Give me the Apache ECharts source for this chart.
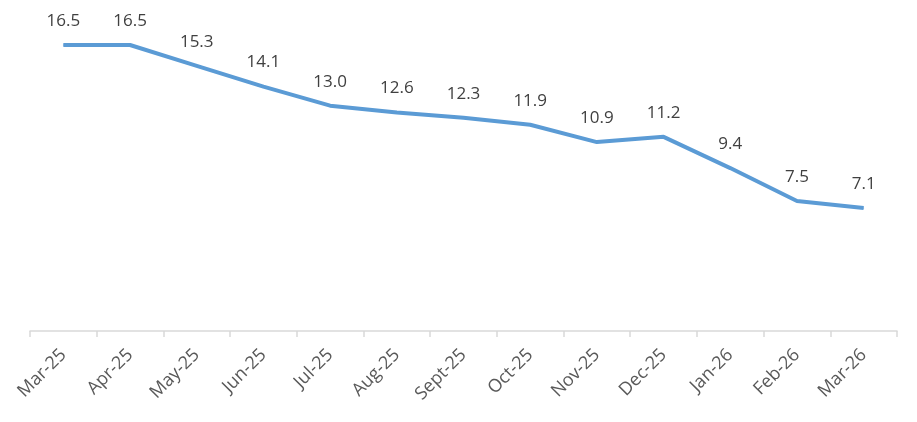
<!DOCTYPE html>
<html>
<head>
<meta charset="utf-8">
<script src="https://cdn.jsdelivr.net/npm/echarts@6/dist/echarts.min.js"></script>
<style>
  html, body { margin: 0; padding: 0; background: #fff; }
  #chart { width: 917px; height: 422px; }
</style>
</head>
<body>
<div id="chart"></div>
<script>
const months = ["Mar-25", "Apr-25", "May-25", "Jun-25", "Jul-25", "Aug-25", "Sept-25",
  "Oct-25", "Nov-25", "Dec-25", "Jan-26", "Feb-26", "Mar-26"];
const values = [16.5, 16.5, 15.3, 14.1, 13.0, 12.6, 12.3, 11.9, 10.9, 11.2, 9.4, 7.5, 7.1];

const chart = echarts.init(document.getElementById("chart"));

chart.setOption({
  animation: false,
  grid: { left: 30, right: 20, top: 19, bottom: 91 },
  xAxis: {
    type: "category",
    data: months,
    boundaryGap: true,
    axisLine: { lineStyle: { color: "#d9d9d9", width: 1.5 } },
    axisTick: { show: true, alignWithLabel: false, interval: 0, length: 6, lineStyle: { color: "#d9d9d9", width: 1.5 } },
    axisLabel: {
      interval: 0,
      rotate: 45,
      margin: 21,
      color: "#595959",
      fontSize: 18,
      fontFamily: "Open Sans"
    }
  },
  yAxis: {
    type: "value",
    min: 0,
    max: 18,
    show: false
  },
  series: [{
    type: "line",
    data: values,
    symbol: "circle",
    symbolSize: 1,
    itemStyle: { color: "#5b9bd5" },
    lineStyle: { color: "#5b9bd5", width: 4 },
    label: {
      show: true,
      position: "top",
      distance: 15,
      color: "#404040",
      fontSize: 17,
      fontFamily: "Open Sans",
      formatter: (p) => p.value.toFixed(1)
    }
  }]
});
</script>
</body>
</html>
